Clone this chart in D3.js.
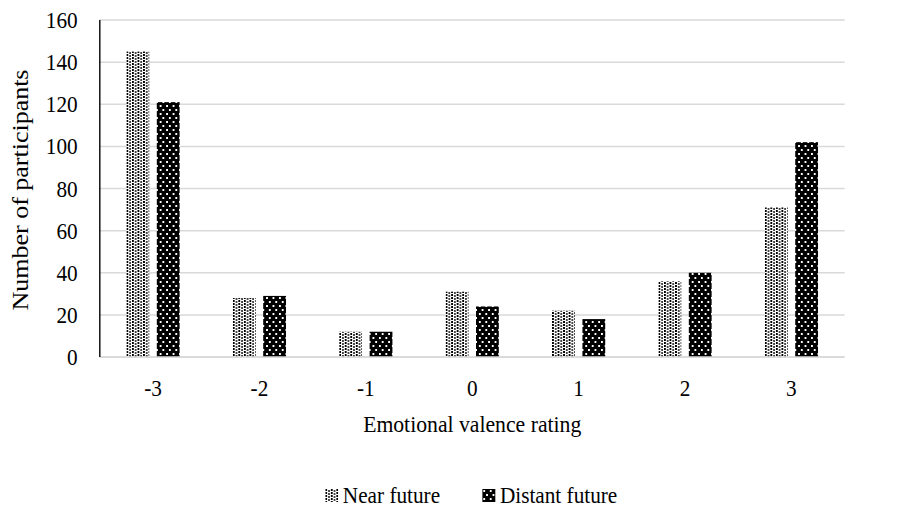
<!DOCTYPE html>
<html>
<head>
<meta charset="utf-8">
<script src="https://cdn.jsdelivr.net/npm/d3@7"></script>
<style>
  body { margin: 0; background: #fff; }
</style>
</head>
<body>
<div class="chart"></div>
<script>
// values
var ratings = ["-3", "-2", "-1", "0", "1", "2", "3"];
var seriesNames = ["Near future", "Distant future"];
var nearFuture = [145, 28, 12, 31, 22, 36, 71];
var distantFuture = [121, 29, 12, 24, 18, 40, 102];
var yTicks = [0, 20, 40, 60, 80, 100, 120, 140, 160];

var width = 901, height = 510;
// chart laid out on a 975 wide canvas, squeezed to 901 like the source
var baseWidth = 975;
var plot = {left: 108, right: 914, top: 20, bottom: 357};
var serif = "'Liberation Serif', 'Times New Roman', Times, serif";

var root = d3.select(".chart").append("svg")
  .attr("width", width)
  .attr("height", height)
  .attr("font-family", serif)
  .style("font-family", serif);

// pattern fills (excel style)
var defs = root.append("defs");

var pNear = defs.append("pattern")
  .attr("id", "pat-near")
  .attr("patternUnits", "userSpaceOnUse")
  .attr("width", 6).attr("height", 6);
pNear.append("rect").attr("width", 6).attr("height", 6).attr("fill", "#fff");
pNear.append("rect").attr("x", 0).attr("y", 0).attr("width", 2).attr("height", 2).attr("fill", "#000");
pNear.append("rect").attr("x", 0).attr("y", 3).attr("width", 2).attr("height", 2).attr("fill", "#000");
pNear.append("rect").attr("x", 3).attr("y", 1).attr("width", 2).attr("height", 2).attr("fill", "#444");
pNear.append("rect").attr("x", 3).attr("y", 4).attr("width", 2).attr("height", 2).attr("fill", "#444");

var pFar = defs.append("pattern")
  .attr("id", "pat-far")
  .attr("patternUnits", "userSpaceOnUse")
  .attr("width", 7).attr("height", 8);
pFar.append("rect").attr("width", 7).attr("height", 8).attr("fill", "#000");
pFar.append("rect").attr("x", 1).attr("y", 1).attr("width", 2).attr("height", 2).attr("fill", "#fff");
pFar.append("rect").attr("x", 4).attr("y", 5).attr("width", 2).attr("height", 2).attr("fill", "#fff");

var fills = {"Near future": "url(#pat-near)", "Distant future": "url(#pat-far)"};

var svg = root.append("g")
  .attr("transform", "scale(" + (width / baseWidth) + ",1)");

var x0 = d3.scaleBand()
  .domain(ratings)
  .range([plot.left, plot.right])
  .paddingInner(0.5)
  .paddingOuter(0.25);

var x1 = d3.scaleBand()
  .domain(seriesNames)
  .range([0, x0.bandwidth()])
  .paddingInner(0.25);

var y = d3.scaleLinear()
  .domain([0, 160])
  .range([plot.bottom, plot.top]);

// gridlines
svg.append("g")
  .selectAll("line")
  .data(yTicks)
  .enter()
  .append("line")
  .attr("x1", plot.left)
  .attr("x2", plot.right)
  .attr("y1", d => y(d))
  .attr("y2", d => y(d))
  .attr("stroke", "#d9d9d9")
  .attr("stroke-width", 1.5);

// y tick labels
svg.append("g")
  .selectAll("text")
  .data(yTicks)
  .enter()
  .append("text")
  .attr("x", 84)
  .attr("y", d => y(d))
  .attr("dy", "0.35em")
  .style("text-anchor", "end")
  .style("font-size", "23px")
  .text(d => d);

// bars
var rows = ratings.map((r, i) => ({rating: r, values: [
  {name: seriesNames[0], value: nearFuture[i]},
  {name: seriesNames[1], value: distantFuture[i]}
]}));

var groups = svg.append("g")
  .selectAll("g")
  .data(rows)
  .enter()
  .append("g")
  .attr("transform", d => "translate(" + x0(d.rating) + ",0)");

groups.selectAll("rect")
  .data(d => d.values)
  .enter()
  .append("rect")
  .attr("x", d => x1(d.name))
  .attr("width", x1.bandwidth())
  .attr("y", d => y(d.value))
  .attr("height", d => y(0) - y(d.value))
  .attr("fill", d => fills[d.name]);

// axes lines
svg.append("line")
  .attr("x1", plot.left).attr("x2", plot.right)
  .attr("y1", y(0)).attr("y2", y(0))
  .attr("stroke", "#d9d9d9")
  .attr("stroke-width", 1.5);

svg.append("line")
  .attr("x1", plot.left).attr("x2", plot.left)
  .attr("y1", plot.top).attr("y2", y(0))
  .attr("stroke", "#000")
  .attr("stroke-width", 1.5);

// x tick labels
svg.append("g")
  .selectAll("text")
  .data(ratings)
  .enter()
  .append("text")
  .attr("x", d => x0(d) + x0.bandwidth() / 2)
  .attr("y", 396)
  .style("text-anchor", "middle")
  .style("font-size", "23px")
  .text(d => d);

// axis titles
svg.append("text")
  .attr("x", (plot.left + plot.right) / 2)
  .attr("y", 432)
  .style("text-anchor", "middle")
  .style("font-size", "23.5px")
  .text("Emotional valence rating");

svg.append("text")
  .attr("transform", "translate(30,190) rotate(-90)")
  .style("text-anchor", "middle")
  .style("font-size", "26px")
  .text("Number of participants");

// legend
var legendX = [352, 522];
var legend = svg.append("g")
  .selectAll("g")
  .data(seriesNames)
  .enter()
  .append("g")
  .attr("transform", (d, i) => "translate(" + legendX[i] + ",489)");

legend.append("rect")
  .attr("width", 14)
  .attr("height", 13)
  .attr("fill", d => fills[d]);

legend.append("text")
  .attr("x", 19)
  .attr("y", 14)
  .style("font-size", "23px")
  .text(d => d);
</script>
</body>
</html>
